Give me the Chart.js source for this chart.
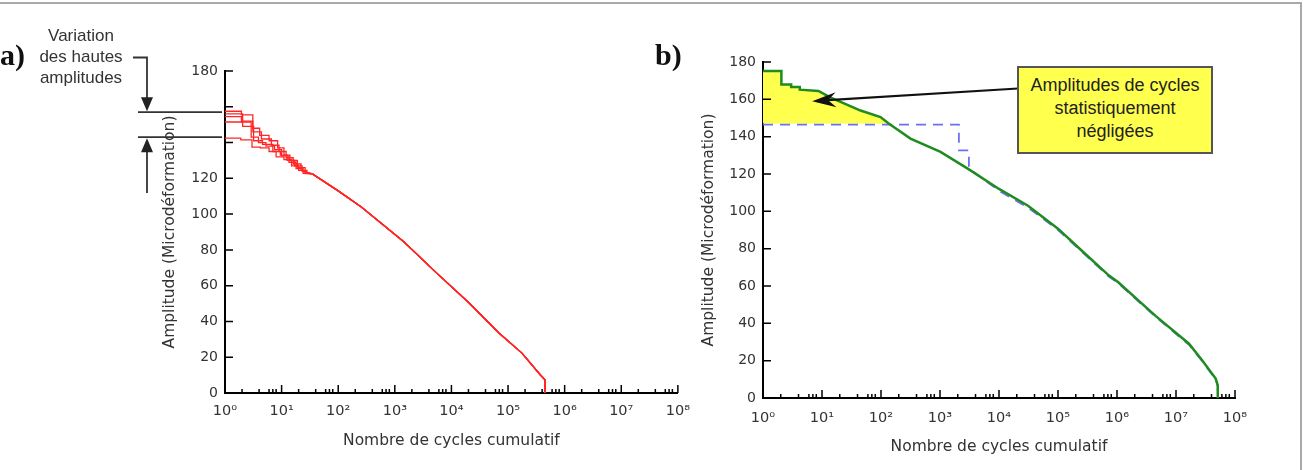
<!DOCTYPE html>
<html lang="fr">
<head>
<meta charset="utf-8">
<title>Amplitude - nombre de cycles cumulatif</title>
<script src="https://cdn.jsdelivr.net/npm/chart.js@4.4.1/dist/chart.umd.min.js"></script>
<style>
  html, body { margin: 0; padding: 0; background: #fff; }
  #page { position: relative; width: 1306px; height: 470px; overflow: hidden; background: #fff; }
  #frame { position: absolute; left: 0; top: 2px; width: 1302px; height: 480px; box-sizing: border-box;
           border-top: 2px solid #a9a9a9; border-right: 2px solid #a9a9a9; }
  canvas { position: absolute; top: 0; }
  #chartA { left: 0; }
  #chartB { left: 640px; }
  .panel { position: absolute; font-family: "Liberation Serif", "Times New Roman", serif; font-weight: bold;
           font-size: 30px; line-height: 30px; color: #111; }
  #note { position: absolute; left: 21px; top: 25px; width: 120px; text-align: center;
          font-family: "Liberation Sans", Arial, sans-serif; font-size: 17px; line-height: 21px; color: #333; }
  #callout { position: absolute; left: 1017px; top: 66px; width: 196px; height: 88px; box-sizing: border-box;
             border: 2px solid #555; background: #ffff4d; padding-top: 6px; text-align: center;
             font-family: "Liberation Sans", Arial, sans-serif; font-size: 18px; line-height: 22.8px; color: #222; }
</style>
</head>
<body>
<div id="page">
  <div id="frame"></div>
  <canvas id="chartA" width="700" height="470"></canvas>
  <canvas id="chartB" width="666" height="470"></canvas>
  <div class="panel" style="left:0; top:40px;">a)</div>
  <div class="panel" style="left:655px; top:40px;">b)</div>
  <div id="note">Variation<br>des hautes<br>amplitudes</div>
  <div id="callout">Amplitudes de cycles<br>statistiquement<br>négligées</div>
</div>
<script>
  // a) five recorded histories - stepped heads, then a common tail
  const cyclesA1 = [1, 1.95, 1.95, 3.1, 3.1, 4.1, 4.1, 6, 6, 8.5, 8.5, 11, 11, 14, 14, 19, 19, 26, 26];
  const amplA1   = [157.5, 157.5, 155.5, 155.5, 148, 148, 144, 144, 141, 141, 137, 137, 133, 133, 130, 130, 126, 126, 123];
  const cyclesA2 = [1, 2.05, 2.05, 3.1, 3.1, 4.4, 4.4, 6.6, 6.6, 9, 9, 12, 12, 16, 16, 22, 22];
  const amplA2   = [156, 156, 152, 152, 146, 146, 142, 142, 138.5, 138.5, 135, 135, 131.5, 131.5, 128, 128, 124.5];
  const cyclesA3 = [1, 1.95, 1.95, 2.9, 2.9, 3.9, 3.9, 5.3, 5.3, 7.5, 7.5, 10, 10, 13.5, 13.5, 18, 18, 24, 24];
  const amplA3   = [154.5, 154.5, 151.5, 151.5, 143, 143, 140, 140, 138, 138, 136, 136, 132.5, 132.5, 129, 129, 125.5, 125.5, 122.8];
  const cyclesA4 = [1, 2.05, 2.05, 3.2, 3.2, 4.6, 4.6, 7, 7, 9.5, 9.5, 12.5, 12.5, 17, 17, 23, 23];
  const amplA4   = [151.5, 151.5, 149, 149, 141, 141, 139, 139, 135, 135, 133, 133, 130, 130, 127, 127, 124];
  const cyclesA5 = [1, 1.9, 1.9, 3, 3, 4.2, 4.2, 6, 6, 8, 8, 11, 11, 15, 15, 20, 20, 28, 28];
  const amplA5   = [142.5, 142.5, 141.5, 141.5, 137.5, 137.5, 137, 137, 135, 135, 132, 132, 130.5, 130.5, 127, 127, 124.5, 124.5, 122.8];
  const tailCyclesA = [35, 100, 256, 1440, 5500, 21000, 69000, 176000, 370000, 450000, 450000];
  const tailAmplA   = [122.5, 113, 104, 84.6, 67, 50, 33.5, 22.3, 10.2, 7.4, 0];
  const highAmplBounds = [143, 157];

  // b) retained spectrum (green) and truncated spectrum (blue dashed)
  const greenCycles = [1, 2.05, 2.05, 3, 3, 4.2, 4.2, 8.7, 13.8, 45, 98, 135, 316, 1020, 2950, 10000, 31000,
                       100000, 251000, 724000, 1050000, 4500000, 16600000, 27700000, 47000000, 51000000, 51000000];
  const greenAmpl   = [175.2, 175.2, 168, 168, 166.6, 166.6, 165.2, 164.5, 161, 154, 150.5, 147, 139, 131.8, 122.9, 112, 103,
                       90.7, 79, 65.7, 62, 44, 29.1, 20.2, 10.4, 6.8, 0];
  const blueCycles  = [1, 2090, 2090, 3090, 3090, 10000, 31000, 100000, 251000, 724000, 1050000, 4500000,
                       16600000, 27700000, 47000000, 51000000, 51000000];
  const blueAmpl    = [146.5, 146.5, 132.7, 132.7, 123, 111, 102, 90, 78.5, 65, 61.5, 43.5, 28.5, 19.8, 10, 6.5, 0];
  const cutLevel = 147;          // amplitude below which cycles are kept
  const calloutAt = [6.8, 159];  // arrow tip (cycles, amplitude)

  const yTicks = [0, 20, 40, 60, 80, 100, 120, 140, 160, 180];
  const xDecades = [0, 1, 2, 3, 4, 5, 6, 7, 8];
  const xMinor = [2, 4, 6, 7, 8];
  const SUP = ['\u2070', '\u00b9', '\u00b2', '\u00b3', '\u2074', '\u2075', '\u2076', '\u2077', '\u2078'];

  const pts = (xs, ys) => xs.map((x, i) => ({ x: x, y: ys[i] }));

  Chart.defaults.font.family = "'DejaVu Sans', sans-serif";
  Chart.defaults.color = '#333';

  // matplotlib-like ticks pointing into the plot
  const inwardTicks = {
    id: 'inwardTicks',
    afterDatasetsDraw(chart) {
      const { ctx, chartArea: a, scales: { x, y } } = chart;
      ctx.save();
      ctx.strokeStyle = '#000';
      ctx.lineWidth = 1.5;
      ctx.beginPath();
      yTicks.forEach(v => {
        const py = y.getPixelForValue(v);
        ctx.moveTo(a.left, py);
        ctx.lineTo(a.left + 8, py);
      });
      xDecades.forEach(e => {
        const px = x.getPixelForValue(Math.pow(10, e));
        ctx.moveTo(px, a.bottom);
        ctx.lineTo(px, a.bottom - 8);
        if (e === 8) return;
        xMinor.forEach(k => {
          const mx = x.getPixelForValue(k * Math.pow(10, e));
          ctx.moveTo(mx, a.bottom);
          ctx.lineTo(mx, a.bottom - 4);
        });
      });
      ctx.stroke();
      ctx.restore();
    }
  };

  function arrowHead(ctx, tx, ty, ang, len, half, notch) {
    const c = Math.cos(ang), s = Math.sin(ang);
    ctx.beginPath();
    ctx.moveTo(tx, ty);
    ctx.lineTo(tx - len * c - half * s, ty - len * s + half * c);
    ctx.lineTo(tx - notch * c, ty - notch * s);
    ctx.lineTo(tx - len * c + half * s, ty - len * s - half * c);
    ctx.closePath();
    ctx.fill();
  }

  // a) bracket showing the spread of the highest amplitudes
  const rangeMarks = {
    id: 'rangeMarks',
    afterDraw(chart) {
      const { ctx, scales: { y } } = chart;
      const yLo = y.getPixelForValue(highAmplBounds[0]);
      const yHi = y.getPixelForValue(highAmplBounds[1]);
      ctx.save();
      ctx.strokeStyle = '#333';
      ctx.fillStyle = '#222';
      ctx.lineWidth = 1.8;
      ctx.beginPath();
      ctx.moveTo(138, yHi); ctx.lineTo(222, yHi);
      ctx.moveTo(138, yLo); ctx.lineTo(222, yLo);
      ctx.moveTo(133, 57.5); ctx.lineTo(147, 57.5); ctx.lineTo(147, yHi - 12);
      ctx.moveTo(147, yLo + 12); ctx.lineTo(147, 193);
      ctx.stroke();
      arrowHead(ctx, 147, yHi - 1, Math.PI / 2, 14, 6, 14);
      arrowHead(ctx, 147, yLo + 1, -Math.PI / 2, 14, 6, 14);
      ctx.restore();
    }
  };

  // b) arrow from the yellow note to the neglected zone
  const calloutArrow = {
    id: 'calloutArrow',
    afterDraw(chart) {
      const { ctx, scales: { x, y } } = chart;
      const tx = x.getPixelForValue(calloutAt[0]);
      const ty = y.getPixelForValue(calloutAt[1]);
      const sx = 378, sy = 88.5;
      const ang = Math.atan2(ty - sy, tx - sx);
      ctx.save();
      ctx.strokeStyle = '#111';
      ctx.fillStyle = '#111';
      ctx.lineWidth = 2.2;
      ctx.beginPath();
      ctx.moveTo(sx, sy);
      ctx.lineTo(tx - 16 * Math.cos(ang), ty - 16 * Math.sin(ang));
      ctx.stroke();
      arrowHead(ctx, tx, ty, ang, 24, 7.5, 16);
      ctx.restore();
    }
  };

  function makeOptions(p) {
    return {
      responsive: false,
      devicePixelRatio: 1,
      animation: false,
      layout: { padding: p.padding },
      plugins: { legend: { display: false }, tooltip: { enabled: false } },
      elements: { point: { radius: 0 } },
      scales: {
        x: {
          type: 'logarithmic', min: 1, max: 1e8,
          afterBuildTicks: s => { s.ticks = xDecades.map(e => ({ value: Math.pow(10, e) })); },
          afterFit: s => { s.height = p.xH; },
          grid: { display: true, drawOnChartArea: false, drawTicks: false },
          border: { display: true, color: '#000', width: 2 },
          ticks: { autoSkip: false, maxRotation: 0, padding: p.xPad, font: { size: 14.5 },
                   callback: v => '10' + SUP[Math.round(Math.log10(v))] },
          title: { display: true, text: 'Nombre de cycles cumulatif', font: { size: 15.5 } }
        },
        y: {
          min: 0, max: 180,
          afterBuildTicks: s => { s.ticks = yTicks.map(v => ({ value: v })); },
          afterFit: s => { s.width = p.yW; },
          grid: { display: true, drawOnChartArea: false, drawTicks: false },
          border: { display: true, color: '#000', width: 2 },
          ticks: { padding: 7, font: { size: 14 },
                   callback: v => (p.hide.indexOf(v) >= 0 ? '' : String(v)) },
          title: { display: true, text: 'Amplitude (Microdéformation)', font: { size: 15.5 } }
        }
      }
    };
  }

  const redLine = (xs, ys) => ({
    data: pts(xs.concat(tailCyclesA), ys.concat(tailAmplA)),
    showLine: true, borderColor: '#ff2626', borderWidth: 1.3, fill: false
  });

  new Chart(document.getElementById('chartA'), {
    type: 'scatter',
    data: {
      datasets: [
        redLine(cyclesA1, amplA1),
        redLine(cyclesA2, amplA2),
        redLine(cyclesA3, amplA3),
        redLine(cyclesA4, amplA4),
        redLine(cyclesA5, amplA5)
      ]
    },
    options: makeOptions({ padding: { top: 71, left: 157, right: 16, bottom: 16 }, yW: 68, xH: 61, xPad: 10, hide: [140, 160] }),
    plugins: [inwardTicks, rangeMarks]
  });

  const keep = greenAmpl.findIndex(v => v <= cutLevel) + 1;

  new Chart(document.getElementById('chartB'), {
    type: 'scatter',
    data: {
      datasets: [
        { data: pts(greenCycles, greenAmpl), showLine: true, borderColor: '#1e8c1e', borderWidth: 2.5, fill: false },
        { data: pts(blueCycles, blueAmpl), showLine: true, borderColor: '#6a72f0', borderWidth: 1.8,
          borderDash: [10, 7], fill: false },
        { data: pts(greenCycles.slice(0, keep), greenAmpl.slice(0, keep)), showLine: true, borderWidth: 0,
          borderColor: 'rgba(0,0,0,0)', backgroundColor: '#ffff4d', fill: { value: cutLevel } }
      ]
    },
    options: makeOptions({ padding: { top: 62, left: 56, right: 71, bottom: 10 }, yW: 67, xH: 62, xPad: 12, hide: [] }),
    plugins: [inwardTicks, calloutArrow]
  });
</script>
</body>
</html>
